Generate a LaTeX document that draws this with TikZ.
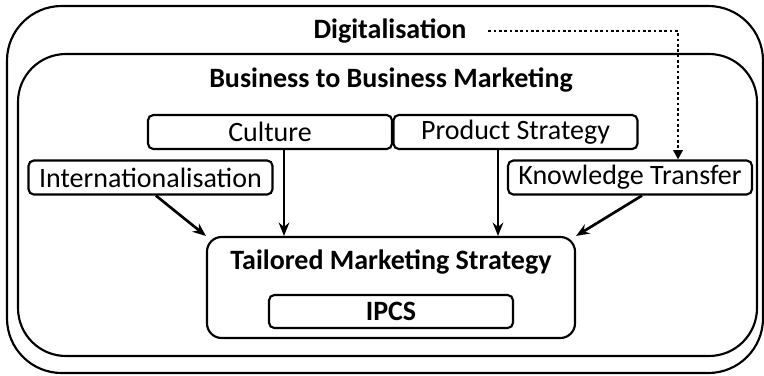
\documentclass[tikz,border=0pt]{standalone}
\usepackage{fontspec}
\setmainfont{Carlito}
\usetikzlibrary{arrows.meta}
\tikzset{
  frame/.style={draw, line width=1.6pt},
  factor/.style={draw, line width=1.6pt, rounded corners=4pt, minimum width=183pt, minimum height=25.5pt, inner sep=0pt, font=\fontsize{21}{24}\selectfont},
  title/.style={font=\fontsize{21}{24}\selectfont\bfseries},
  link/.style={line width=2pt, -{Stealth[length=10pt,width=8pt]}},
}
\begin{document}
\begin{tikzpicture}[x=0.75pt,y=-0.75pt]
\useasboundingbox (0,0) rectangle (764,375);
\draw[frame, rounded corners=41pt] (7,6) rectangle (763,373);
\draw[frame, rounded corners=36pt] (18,54) rectangle (757,356);
\node[title] (dig) at (390,31) {Digitalisation};
\node[title] (b2b) at (391,80) {Business to Business Marketing};
\node[factor] (cul) at (270,132) {Culture};
\node[factor] (prod) at (515.5,132) {Product Strategy};
\node[factor] (intl) at (150.5,177.5) {Internationalisation};
\node[factor] (kt) at (630,177.5) {Knowledge Transfer};
\node[draw, line width=1.6pt, rounded corners=11pt, minimum width=276pt, minimum height=75.75pt] (tms) at (391,287.5) {};
\node[title] (tmslabel) at (391,262) {Tailored Marketing Strategy};
\node[factor, minimum height=24.75pt, font=\fontsize{21}{24}\selectfont\bfseries] (ipcs) at (391,311.5) {IPCS};
\coordinate (inl) at ([xshift=-80.25pt]tms.north);
\coordinate (inr) at ([xshift=80.25pt]tms.north);
\draw[link] ([xshift=4pt]intl.south) -- (tms.north west);
\draw[link] (cul.south -| inl) -- (inl);
\draw[link] (prod.south -| inr) -- (inr);
\draw[link] ([xshift=9pt]kt.south) -- (tms.north east);
\draw[line width=2pt, dotted, -{Triangle[length=7pt,width=7pt]}] ([xshift=13pt]dig.east) -| ([xshift=36pt]kt.north);
\end{tikzpicture}
\end{document}
